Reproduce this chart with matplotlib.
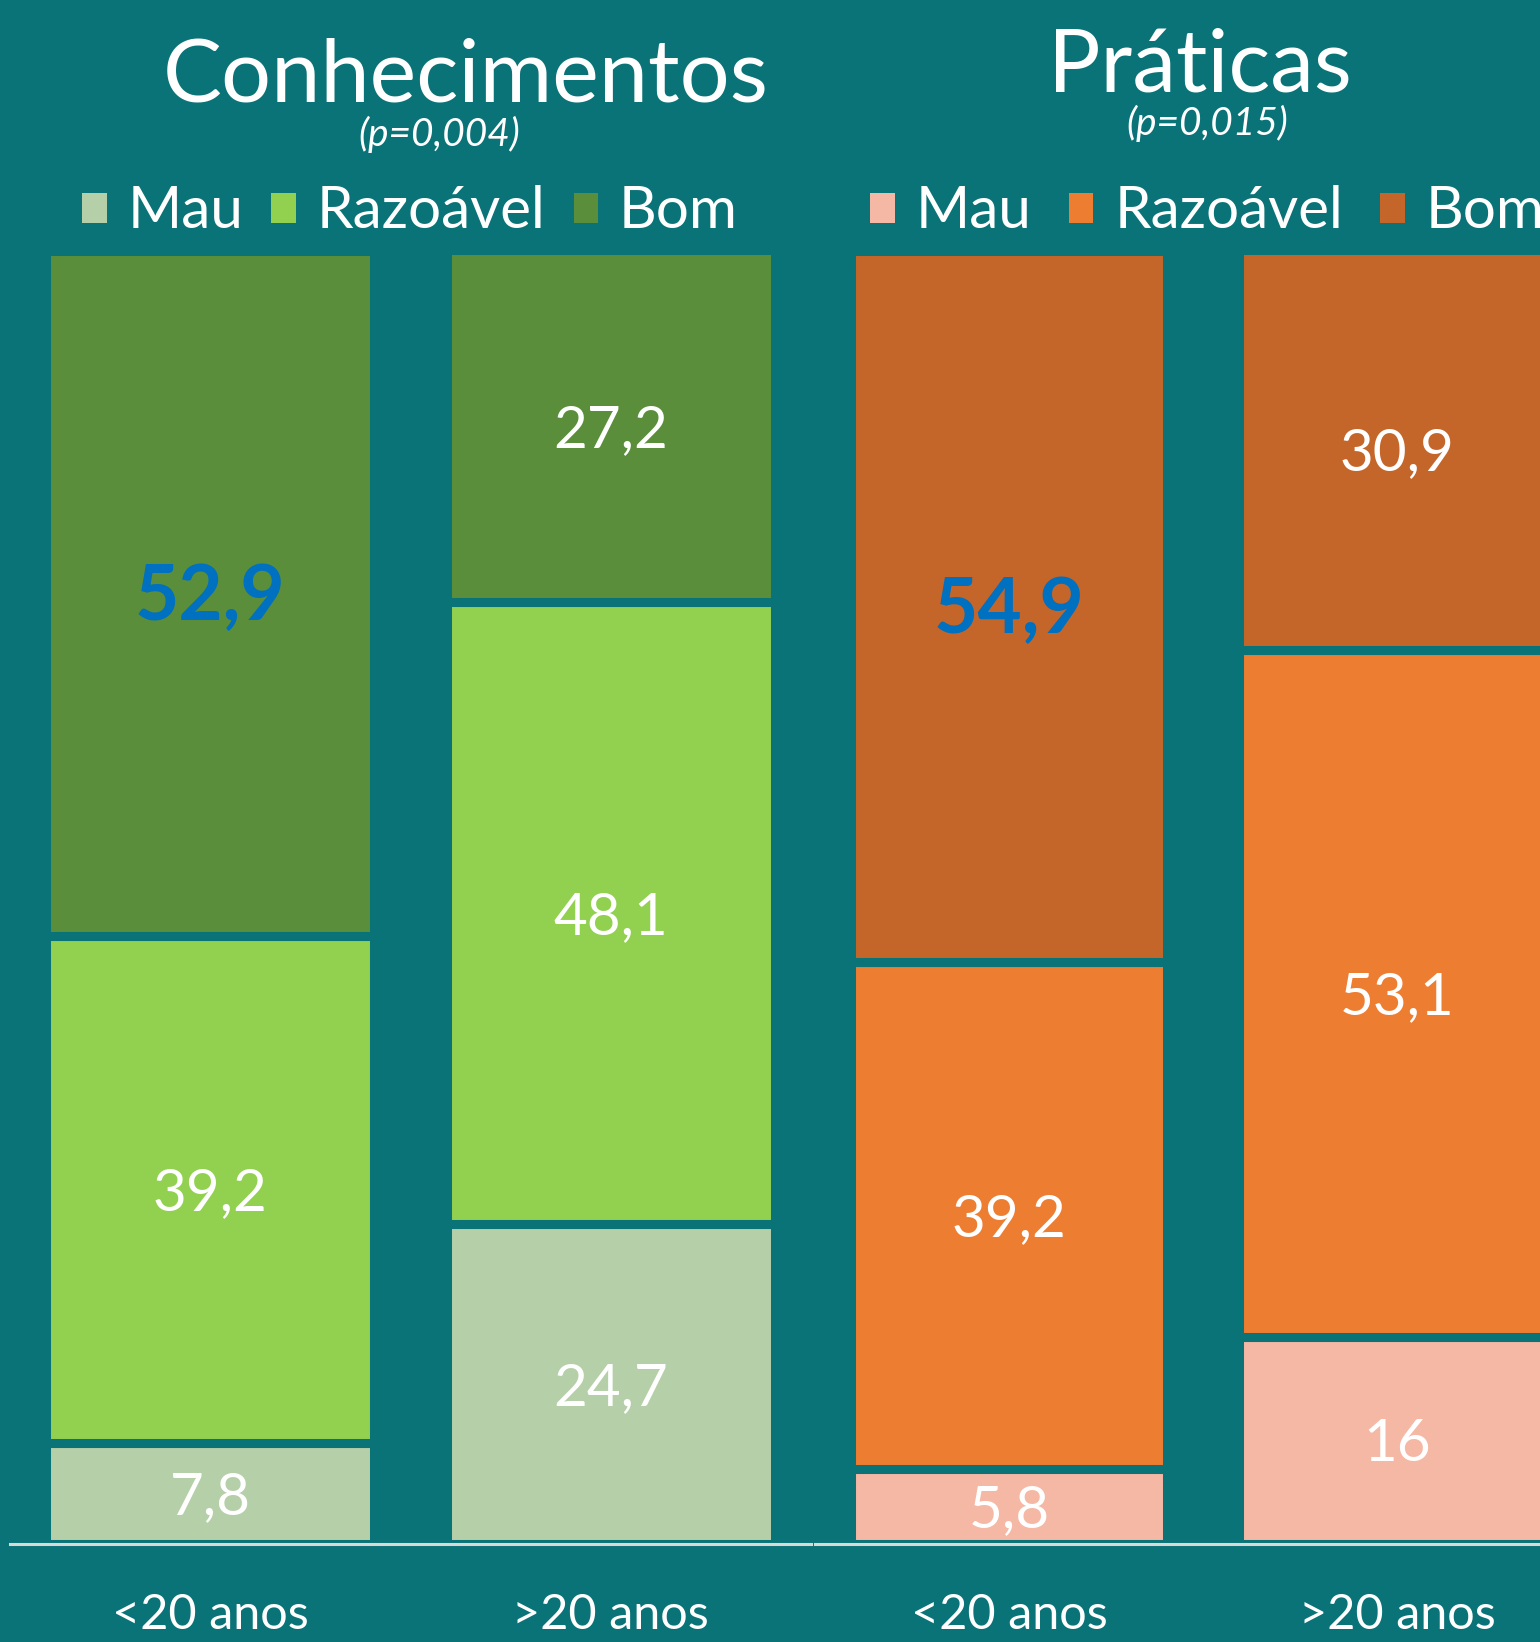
import matplotlib
matplotlib.use('Agg')
import matplotlib.pyplot as plt
from matplotlib.patches import Patch

plt.rcParams['font.family'] = ['Lato', 'DejaVu Sans']

groups = ['<20 anos', '>20 anos']
levels = ['Mau', 'Razoável', 'Bom']

conh_mau = [7.8, 24.7]
conh_raz = [39.2, 48.1]
conh_bom = [52.9, 27.2]

prat_mau = [5.8, 16]
prat_raz = [39.2, 53.1]
prat_bom = [54.9, 30.9]

BG = '#0A7377'
GREENS = ['#B5CFA8', '#92D050', '#5A8E3A']
ORANGES = ['#F4B8A4', '#ED7D31', '#C4662A']
HIGHLIGHT = '#0070C0'

W, H = 1540, 1642


def fmt(v):
    return f'{v:g}'.replace('.', ',')


def panel(fig, left_px, width_px, series, colors, bar_w):
    ax = fig.add_axes([left_px / W, (H - 1544) / H, width_px / W, (1544 - 250) / H])
    ax.set_facecolor(BG)
    x = list(range(len(groups)))
    bottom = [0.0] * len(groups)
    for k, (vals, c) in enumerate(zip(series, colors)):
        ax.bar(x, vals, bar_w, bottom=bottom, color=c, edgecolor=BG, linewidth=6.5)
        for i, v in enumerate(vals):
            yc = bottom[i] + v / 2
            if k == 2 and i == 0:
                ax.annotate(fmt(v), (i, yc), xytext=(0, -3), textcoords='offset points',
                            ha='center', va='center', color=HIGHLIGHT,
                            fontsize=55, fontweight='bold')
            else:
                ax.annotate(fmt(v), (i, yc), xytext=(0, -3), textcoords='offset points',
                            ha='center', va='center', color='white', fontsize=42)
        bottom = [b + v for b, v in zip(bottom, vals)]
    ax.set_xlim(-0.5, 1.5)
    ax.set_ylim(0, 100)
    ax.set_yticks([])
    ax.set_xticks(x)
    ax.set_xticklabels(groups, color='white', fontsize=35)
    ax.tick_params(axis='x', length=0, pad=35)
    for s in ['top', 'left', 'right']:
        ax.spines[s].set_visible(False)
    ax.spines['bottom'].set_color('#D9D9D9')
    ax.spines['bottom'].set_linewidth(2.2)
    ax.spines['bottom'].set_zorder(5)
    return ax


fig = plt.figure(figsize=(W / 100, H / 100), dpi=100, facecolor=BG)

panel(fig, 10, 801, [conh_mau, conh_raz, conh_bom], GREENS, 0.82)
panel(fig, 815, 776, [prat_mau, prat_raz, prat_bom], ORANGES, 0.814)

# titles
fig.text(466 / W, 1 - 102 / H, 'Conhecimentos', ha='center', va='baseline',
         color='white', fontsize=63.5)
fig.text(439 / W, 1 - 134 / H, '(p=0,004)', ha='center', va='center',
         color='white', fontsize=28, fontstyle='italic')
fig.text(1200 / W, 1 - 91 / H, 'Práticas', ha='center', va='baseline',
         color='white', fontsize=63)
fig.text(1207 / W, 1 - 123 / H, '(p=0,015)', ha='center', va='center',
         color='white', fontsize=28, fontstyle='italic')

# legends
for cols, x0, colsp in [(GREENS, 82, 0.48), (ORANGES, 870, 0.64)]:
    handles = [Patch(facecolor=c, edgecolor='none') for c in cols]
    fig.legend(handles, levels, loc='center left', bbox_to_anchor=(x0 / W, 1 - 212 / H),
               ncol=3, frameon=False, fontsize=42, labelcolor='white',
               handlelength=0.42, handleheight=0.42, handletextpad=0.36,
               columnspacing=colsp, borderpad=0, borderaxespad=0)

fig.savefig('out.png', dpi=100, facecolor=BG)
